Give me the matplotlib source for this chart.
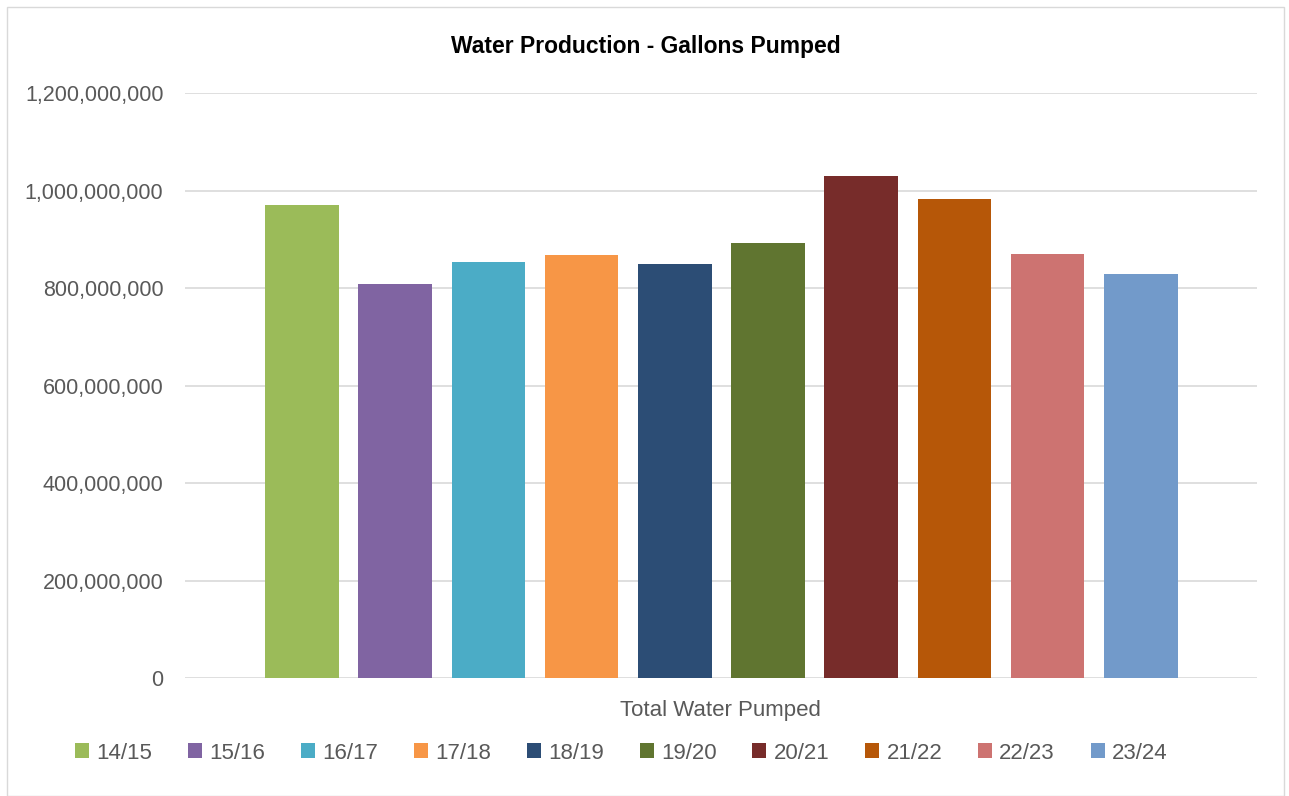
import matplotlib
matplotlib.use("Agg")
import matplotlib.pyplot as plt
from matplotlib.patches import Rectangle
from matplotlib.ticker import FuncFormatter

plt.rcParams["font.family"] = ["Liberation Sans", "DejaVu Sans"]

years = ["14/15", "15/16", "16/17", "17/18", "18/19", "19/20", "20/21", "21/22", "22/23", "23/24"]
gallons = [970e6, 808e6, 853e6, 869e6, 849e6, 892e6, 1031e6, 982e6, 871e6, 830e6]
colors = ["#9bbb59", "#8064a2", "#4bacc6", "#f79646", "#2c4d75",
          "#607530", "#772c2a", "#b65708", "#cd7371", "#729aca"]

fig = plt.figure(figsize=(12.89, 7.96), dpi=100)
ax = fig.add_axes([0.1435, 0.148, 0.8315, 0.735])

bars = ax.bar(range(len(years)), gallons, width=0.79, color=colors, label=years, zorder=3)

ax.set_xlim(-1.254, len(years) - 1 + 1.243)
ax.set_ylim(0, 1.2e9)
ax.set_yticks([i * 2e8 for i in range(7)])
ax.yaxis.set_major_formatter(FuncFormatter(lambda v, p: f"{v:,.0f}"))
ax.grid(axis="y", color="#d9d9d9", lw=1.2, zorder=0)
ax.set_xticks([])
for sp in ax.spines.values():
    sp.set_visible(False)
ax.tick_params(axis="y", length=0, pad=15.5, labelsize=15.5, labelcolor="#595959")

ax.set_xlabel("Total Water Pumped", fontsize=16, color="#595959", labelpad=16)
fig.text(0.501, 0.941, "Water Production - Gallons Pumped", ha="center", va="center",
         fontsize=16.5, fontweight="bold", color="black")

fig.legend(bars, years, loc="center", bbox_to_anchor=(0.482, 0.054), ncol=10,
           frameon=False, fontsize=16, labelcolor="#595959", handlelength=0.63,
           handleheight=0.63, handletextpad=0.32, columnspacing=1.62)

fig.patches.append(Rectangle((7 / 1289, 0.0), 1277 / 1289, 789 / 796, transform=fig.transFigure,
                             fill=False, edgecolor="#d9d9d9", lw=1))

fig.savefig("out.png")
